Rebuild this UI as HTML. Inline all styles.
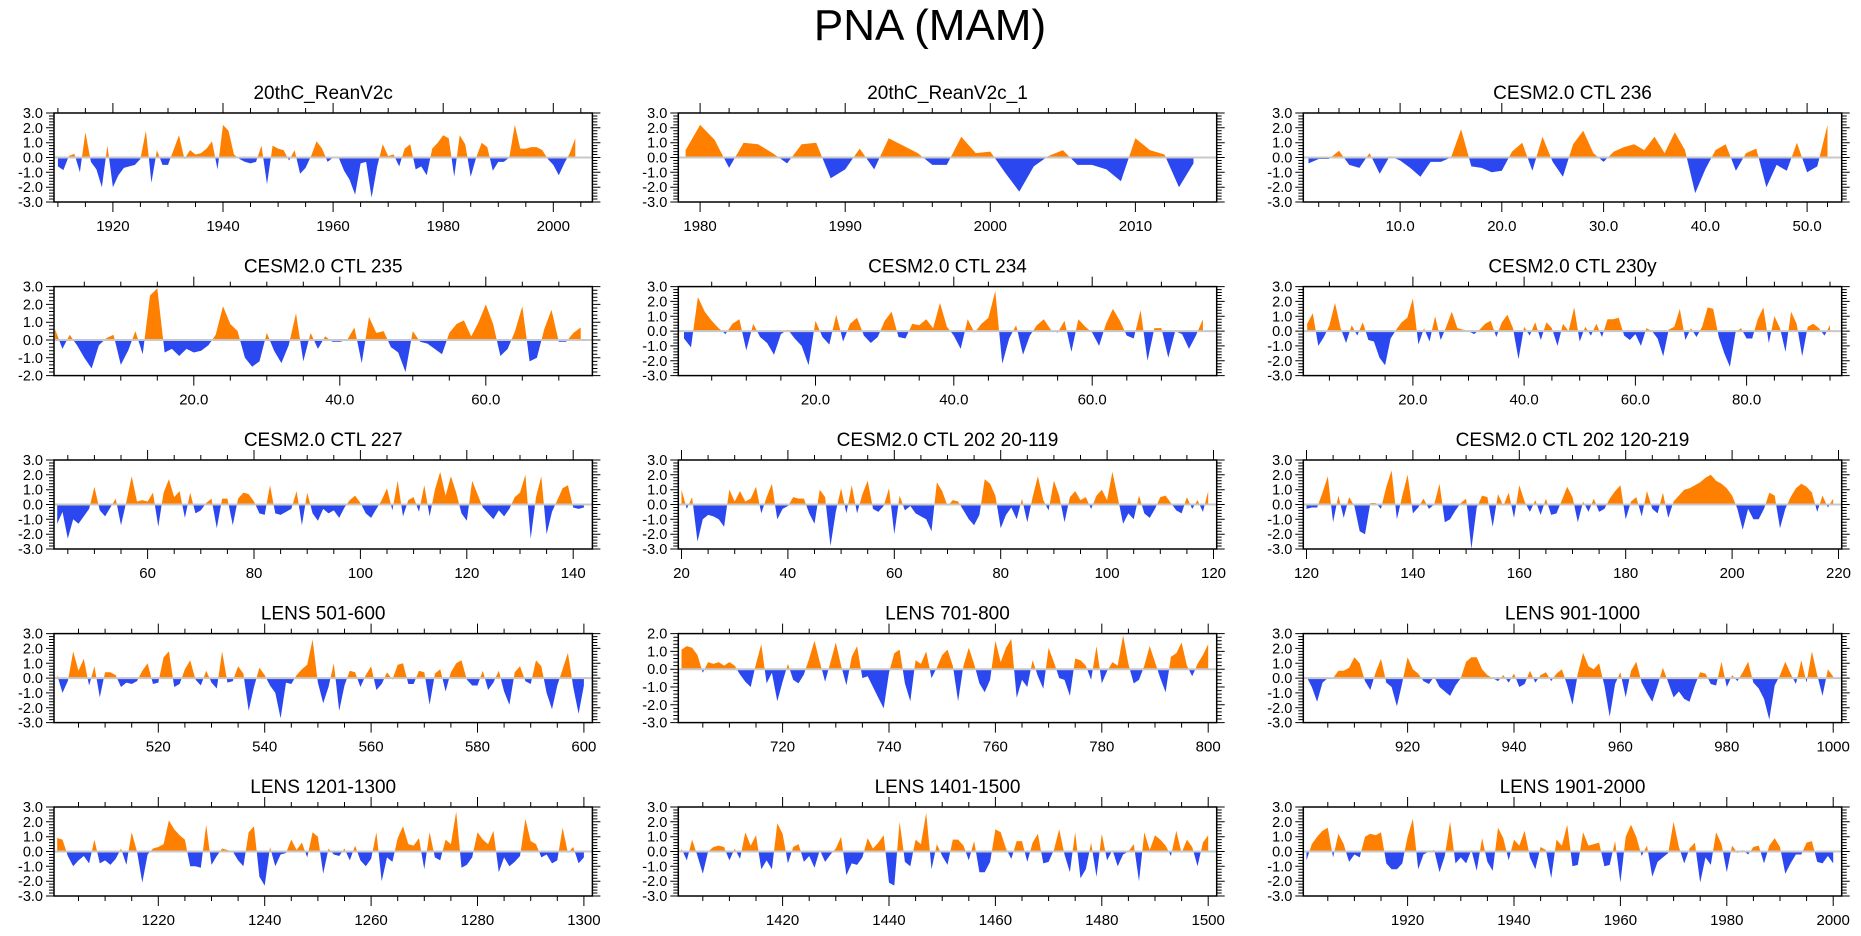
<!DOCTYPE html>
<html><head><meta charset="utf-8"><title>PNA (MAM)</title>
<style>
html,body{margin:0;padding:0;background:#fff;}
svg{display:block;font-family:"Liberation Sans",Arial,sans-serif;}
</style></head>
<body>
<svg id="chart" width="1861" height="936" viewBox="0 0 1861 936" xmlns="http://www.w3.org/2000/svg">
<rect x="0" y="0" width="1861" height="936" fill="#fff"/>
<text x="930" y="40" font-size="44" text-anchor="middle" fill="#000">PNA (MAM)</text>
</svg>
<script>
// ---- data ----
const titles = ["20thC_ReanV2c","20thC_ReanV2c_1","CESM2.0 CTL 236","CESM2.0 CTL 235","CESM2.0 CTL 234","CESM2.0 CTL 230y","CESM2.0 CTL 227","CESM2.0 CTL 202 20-119","CESM2.0 CTL 202 120-219","LENS 501-600","LENS 701-800","LENS 901-1000","LENS 1201-1300","LENS 1401-1500","LENS 1901-2000"];
const startX = [1910,1979,1,1,1,1,43,20,120,501,701,901,1201,1401,1901];
const s1 = [-0.6,-0.85,0.1,0.25,-1.0,1.7,-0.3,-0.8,-2.0,0.8,-2.0,-1.2,-0.7,-0.6,-0.5,-0.1,1.8,-1.7,0.5,-0.5,-0.5,0.5,1.5,-0.1,0.5,0.2,0.3,0.6,1.1,-0.8,2.2,1.8,0.2,-0.1,-0.3,-0.4,-0.3,0.8,-1.8,0.8,0.6,0.5,-0.2,0.5,-1.1,-0.7,0.1,1.1,0.6,-0.3,0.0,0.0,-0.9,-1.5,-2.5,-0.4,-0.3,-2.7,-0.6,0.9,0.1,0.2,-0.6,0.6,0.9,-0.8,-0.6,-1.2,0.6,1.0,1.5,1.3,-1.3,1.5,0.9,-1.3,0.0,1.0,0.7,-0.9,-0.3,-0.3,0.0,2.2,0.6,0.6,0.7,0.7,0.5,-0.1,-0.5,-1.2,-0.4,0.3,1.3];
const s2 = [0.5,2.2,1.2,-0.7,1.0,0.9,0.3,-0.4,0.9,1.0,-1.4,-0.8,0.6,-0.8,1.3,0.8,0.3,-0.5,-0.5,1.4,0.3,0.4,-1.0,-2.3,-0.6,0.1,0.5,-0.5,-0.5,-0.8,-1.6,1.3,0.5,0.2,-2.0,-0.4];
const s3 = [-0.4,-0.1,-0.1,0.45,-0.5,-0.7,0.3,-1.1,0.1,-0.2,-0.7,-1.3,-0.3,-0.3,0.0,1.9,-0.6,-0.7,-1.0,-0.9,0.4,1.0,-0.9,1.4,-0.3,-1.3,0.9,1.8,0.3,-0.3,0.4,0.7,0.9,0.5,1.4,0.3,1.7,0.5,-2.4,-0.8,0.5,0.9,-0.9,0.3,0.6,-2.0,-0.5,-0.9,1.0,-1.0,-0.6,2.2];
const s4 = [0.6,-0.5,0.3,-0.3,-1.0,-1.6,-0.3,0.1,0.3,-1.4,-0.6,0.5,-0.8,2.5,2.9,-0.7,-0.5,-0.9,-0.5,-0.7,-0.6,-0.3,0.3,1.9,0.9,0.5,-1.0,-1.5,-1.2,0.4,-0.6,-1.3,-0.3,1.5,-1.2,0.4,-0.5,0.2,-0.1,-0.1,0.0,0.7,-1.3,1.3,0.4,0.5,-0.4,-0.7,-1.8,0.5,-0.1,-0.2,-0.5,-0.8,0.4,0.9,1.1,0.2,1.0,2.0,0.9,-0.9,-0.5,0.5,1.9,-1.2,-1.0,0.6,1.7,-0.1,-0.1,0.4,0.7];
const s5 = [-0.5,-1.1,2.3,1.3,0.7,0.2,-0.2,0.5,0.8,-1.3,0.5,-0.4,-0.8,-1.6,-0.2,0.1,-0.5,-1.0,-2.3,0.7,-0.4,-0.9,1.1,-0.7,0.5,0.9,-0.3,-0.8,-0.4,0.7,1.3,-0.4,-0.5,0.5,0.4,0.8,0.2,1.9,0.3,-0.3,-1.2,0.8,-0.1,0.5,0.9,2.7,-2.2,-0.5,0.4,-1.6,-0.3,0.4,0.8,0.1,-0.1,0.7,-1.4,0.8,0.3,-0.1,-1.0,0.5,1.5,0.7,-0.3,-0.5,1.4,-2.0,0.2,0.2,-1.8,0.0,-0.2,-1.2,-0.3,0.8];
const s6 = [0.5,1.2,-1.0,-0.4,0.4,1.9,0.2,-0.8,0.4,-0.3,0.6,-0.6,-0.7,-1.8,-2.3,-0.5,0.1,0.6,0.9,2.2,-0.9,0.2,-0.7,1.0,-0.6,0.3,1.3,0.2,0.1,0.0,-0.2,0.1,0.5,0.7,-0.4,0.6,1.1,0.2,-1.9,0.3,-0.3,0.6,-0.6,0.6,0.2,-1.0,0.5,0.0,1.6,-0.7,0.3,-0.3,0.5,-0.4,0.8,0.8,0.9,-0.3,-0.6,-0.2,-1.0,0.2,0.0,-0.5,-1.7,0.1,0.3,1.5,-0.6,0.2,-0.4,0.3,1.6,1.5,-0.4,-1.5,-2.4,-0.1,0.2,-0.5,-0.5,0.8,1.6,-0.8,1.0,0.2,-1.4,1.3,0.5,-1.7,0.3,0.5,0.2,-0.3,0.4];
const s7 = [-1.3,-0.5,-2.3,-1.0,-1.3,-0.8,-0.3,1.2,-0.4,-0.8,-0.2,0.4,-1.4,0.2,1.9,0.2,0.3,0.2,0.8,-1.5,0.8,1.7,0.5,0.9,-0.9,0.8,-0.6,-0.4,0.1,0.4,-1.6,0.4,0.4,-1.4,0.4,0.8,0.7,0.2,-0.6,-0.7,1.3,-0.6,-0.7,-0.5,-0.3,0.9,-1.4,0.8,-0.6,-1.1,-0.3,-0.6,-0.4,-0.9,-0.2,0.3,0.6,0.1,-0.6,-0.9,-0.3,0.3,1.1,-0.4,1.6,-0.8,0.3,0.5,-0.5,1.3,-0.8,1.0,2.2,0.6,1.9,0.8,-0.6,-1.1,1.6,0.7,-0.2,-0.6,-1.0,-0.4,-0.8,-0.3,0.5,0.8,2.0,-2.3,0.5,1.9,-2.0,-0.5,0.3,1.1,1.3,-0.2,-0.3,-0.2];
const s8 = [1.0,-0.3,0.5,-2.5,-1.0,-0.7,-0.8,-1.0,-1.5,1.0,0.2,0.9,0.2,0.4,1.2,-0.6,0.5,1.4,-1.0,-0.3,-0.1,0.5,0.4,0.4,-0.6,-1.3,1.0,0.5,-2.8,-0.5,1.1,-0.6,1.3,-0.6,0.7,1.6,-0.3,-0.5,-0.1,1.1,-2.0,0.6,-0.4,-0.1,-0.6,-0.8,-1.0,-1.8,1.5,0.9,-0.1,0.3,0.2,-0.4,-1.0,-1.4,-0.7,1.7,1.4,0.6,-1.6,-0.7,-0.2,-1.0,0.4,-1.2,0.5,1.9,0.3,-0.4,1.6,0.6,-1.2,0.5,0.9,0.3,0.5,-0.3,0.6,1.0,0.3,2.2,0.5,-1.3,-0.6,-1.0,0.6,-0.6,-0.9,-0.3,0.5,0.6,0.1,-0.4,-0.6,0.5,-0.3,0.3,-0.5,0.9];
const s9 = [-0.3,-0.2,-0.2,0.8,1.9,-1.2,0.6,-0.9,0.5,-0.1,-1.8,-2.0,0.1,0.1,-0.3,1.2,2.3,-1.0,0.6,2.0,-0.6,-0.2,0.4,-0.3,0.0,1.4,-1.2,-1.0,-0.4,0.1,0.4,-3.0,-0.2,0.6,0.5,-1.5,0.7,-0.1,0.8,-0.9,1.3,0.2,-0.5,0.3,-0.7,0.4,-0.7,-0.6,0.3,1.2,0.5,-1.2,0.2,-0.5,0.4,-0.5,-0.3,0.4,0.9,1.3,-1.0,0.2,0.5,-0.8,0.9,-0.3,-0.6,0.8,-0.9,0.2,0.6,1.0,1.1,1.3,1.5,1.8,2.0,1.6,1.4,1.1,0.6,-0.3,-1.7,-0.3,-1.0,-1.0,-0.3,0.8,0.6,-1.6,-0.3,0.5,1.1,1.4,1.2,0.8,-0.5,0.6,-0.2,0.4];
const s10 = [0.2,-1.0,-0.2,1.8,0.5,1.3,-0.5,0.8,-1.3,0.4,0.4,0.2,-0.6,-0.3,-0.4,-0.2,0.5,1.0,-0.4,-0.3,1.4,1.8,-0.6,-0.4,0.6,1.2,-0.1,-0.5,0.5,-0.3,-0.7,1.8,-0.3,-0.2,0.8,0.3,-2.2,-0.6,0.7,0.2,-0.5,-1.0,-2.7,-0.3,-0.4,0.2,0.6,0.9,2.6,-0.3,-1.7,-0.6,1.0,-2.2,-0.5,0.5,0.4,-0.6,0.2,0.8,-0.8,-0.4,0.4,-0.1,0.9,1.0,-0.4,-0.4,0.5,0.4,-1.8,0.3,0.6,-0.9,0.4,1.0,1.2,-0.1,-0.5,-0.5,0.5,-0.8,-0.3,0.5,-0.9,-1.8,0.4,0.8,-0.2,-0.4,1.2,0.8,-1.0,-2.1,-0.5,0.6,1.7,-0.6,-2.4,-0.5];
const s11 = [1.1,1.3,1.2,0.8,-0.2,0.4,0.3,0.4,0.2,0.4,0.2,-0.3,-0.7,-1.0,0.3,1.4,-0.8,-0.2,-1.8,-0.7,0.3,-0.6,-0.8,-0.3,0.6,1.6,0.4,-0.7,0.4,1.5,0.2,-0.9,0.7,1.3,-0.5,-0.4,-1.0,-1.6,-2.2,-0.2,0.9,1.1,-0.8,-1.8,0.5,0.3,1.0,-0.5,0.1,0.8,1.1,0.2,-1.8,0.2,1.2,0.3,-0.8,-1.3,-0.6,1.6,0.4,1.2,1.7,-1.6,-0.6,-1.0,0.5,-0.4,-1.1,1.2,0.4,-0.5,-0.6,-1.5,0.6,0.5,0.2,-0.6,1.3,-0.8,-0.1,0.4,0.2,1.9,0.3,-0.8,-0.6,0.2,1.3,0.4,-0.5,-1.3,0.7,0.9,1.5,0.2,-0.4,0.3,0.8,1.4];
const s12 = [0.1,-0.6,-1.6,-0.3,0.0,0.0,0.5,0.5,0.7,1.4,1.0,-0.2,-0.8,0.4,1.3,-0.3,-0.6,-1.9,-0.3,1.4,0.6,0.3,-0.2,-0.4,0.1,-0.6,-0.9,-1.2,-0.5,0.0,1.1,1.4,1.4,0.6,0.2,0.0,-0.2,0.2,-0.3,0.3,-0.6,-0.4,0.5,-0.3,0.2,0.4,-0.2,0.3,0.6,-0.5,-1.8,0.3,1.7,0.8,0.6,1.0,-0.5,-2.6,-0.4,0.4,-1.3,0.5,1.1,-0.3,-1.0,-1.6,-0.5,0.7,-0.3,-1.3,-0.9,-1.4,-1.6,-0.5,0.4,0.3,-0.4,-0.5,1.1,-0.6,0.2,-0.2,0.4,1.1,-0.3,-0.7,-1.4,-2.8,-0.5,0.2,1.1,0.3,-0.4,1.2,-0.3,1.8,0.2,-1.2,0.6,0.1];
const s13 = [0.9,0.8,-0.3,-1.0,-0.6,-0.3,-0.8,0.8,-0.8,-0.6,-0.9,-0.5,0.2,-0.9,1.3,0.0,-2.1,-0.2,0.2,0.3,0.5,2.1,1.5,1.1,0.8,-1.0,-1.0,-1.1,1.8,-0.9,-0.3,0.2,0.1,0.0,-0.6,-1.0,1.3,1.7,-1.7,-2.3,0.3,-1.0,-0.2,-0.1,0.8,0.1,0.6,-0.4,1.3,1.0,-1.5,0.2,-0.2,-0.3,0.2,-0.6,0.4,-0.6,-1.0,-0.5,1.3,-2.0,-0.4,-0.7,0.9,1.7,0.5,0.4,0.9,-1.2,1.3,-0.4,-0.6,0.8,0.5,2.7,-1.1,-0.9,-0.4,1.3,0.8,0.5,1.4,-1.4,-0.4,-1.0,-0.7,-0.3,2.2,0.7,0.5,-0.4,-0.2,-0.8,-0.6,1.6,-0.1,0.3,-0.8,-0.4];
const s14 = [0.2,-0.6,0.8,-0.3,-1.5,0.0,0.3,0.4,0.3,-0.6,0.2,-0.5,1.3,0.4,1.1,-1.2,-0.6,-1.2,1.9,1.2,-0.8,0.3,0.5,-0.7,-0.3,-1.1,0.1,-0.7,-0.2,0.2,1.0,-1.6,-0.8,-0.9,-0.4,0.9,0.2,0.6,1.1,-2.1,-2.3,2.0,-0.7,-1.0,0.8,0.5,2.6,-1.2,0.5,-0.3,-0.9,0.8,0.8,0.4,-0.6,0.7,-1.4,-1.4,-0.7,1.5,1.3,0.2,-0.5,0.7,0.7,-0.7,0.6,1.2,-0.8,-0.7,0.1,1.5,-0.2,-1.4,1.3,-1.8,-1.2,0.6,-1.7,1.2,-0.6,0.1,-1.0,-0.2,0.0,0.5,-2.0,1.3,0.1,1.1,0.8,0.4,-0.3,1.4,-0.1,0.8,0.3,-1.0,0.6,1.1];
const s15 = [-0.6,0.5,1.0,1.4,1.6,-0.4,1.2,0.5,-0.7,-0.2,-0.4,1.0,1.2,1.1,1.3,-0.8,-1.2,-1.2,-0.8,1.0,2.2,-1.2,-0.2,0.0,0.1,-1.4,-0.3,2.0,-0.8,-0.4,-0.8,0.1,-1.3,0.9,-0.7,-1.3,1.6,0.9,-0.6,0.8,0.4,1.4,-0.4,-1.2,0.3,0.1,-1.8,0.8,0.4,1.8,-1.0,-0.9,1.3,0.4,0.5,0.6,-1.0,-0.9,0.7,-2.1,1.0,1.8,1.0,-0.3,0.4,-1.7,-0.7,-0.4,-0.1,2.0,0.3,-0.8,0.2,0.6,-2.1,-0.4,-0.9,1.3,0.5,-1.4,0.4,-0.1,0.1,-0.2,0.3,0.4,-0.8,0.4,0.9,0.3,-1.5,-0.8,-0.2,-0.2,0.6,0.7,-0.7,-0.8,-0.3,-0.8];
const seriesList = [s1,s2,s3,s4,s5,s6,s7,s8,s9,s10,s11,s12,s13,s14,s15];
const yTopVals = [3,3,3,3,3,3,3,3,3,3,2,3,3,3,3];
const yBotVals = [-3,-3,-3,-2,-3,-3,-3,-3,-3,-3,-3,-3,-3,-3,-3];

// ---- axis settings (layout) ----
const xMinArr = [1909.3,1978.5,0.49,0.85,0.17,0.3,42.4,19.4,119.4,500.4,700.4,900.4,1200.4,1400.4,1900.4];
const xMaxArr = [2007.1,2015.6,53.4,74.6,78,97.1,143.6,120.6,220.6,601.6,801.6,1001.6,1301.6,1501.6,2001.6];
const majorStep = [20,10,10,20,20,20,20,20,20,20,20,20,20,20,20];
const minorStep = [5,2,2,5,5,5,5,5,5,5,5,5,5,5,5];
const decimals = [0,0,1,1,1,1,0,0,0,0,0,0,0,0,0];

const NS = "http://www.w3.org/2000/svg";
const svg = document.getElementById('chart');
const colLeft = [54, 678.3, 1303.3];
const rowTop = [113, 286.6, 460, 633.6, 807];
const PW = 538.4, PH = 89;

function mk(tag, attrs, parent){
  const e = document.createElementNS(NS, tag);
  for (const k in attrs) e.setAttribute(k, attrs[k]);
  parent.appendChild(e);
  return e;
}

for (let p = 0; p < 15; p++) {
  const L = colLeft[p % 3], T = rowTop[Math.floor(p / 3)];
  const xmin = xMinArr[p], xmax = xMaxArr[p], ymin = yBotVals[p], ymax = yTopVals[p];
  const sx = v => L + (v - xmin) / (xmax - xmin) * PW;
  const sy = v => T + (ymax - v) / (ymax - ymin) * PH;
  const g = mk('g', {}, svg);
  
  

  const ttl = mk('text', {x: L + PW / 2, y: T - 14, 'font-size': 19, 'text-anchor': 'middle', fill: '#000'}, g);
  ttl.textContent = titles[p];
  
  

  const vals = seriesList[p], x0 = startX[p];
  const y0 = sy(0);
  const pts = vals.map((v, i) => [x0 + i, v]);
  let pp = [], np = [];
  for (let i = 0; i < pts.length; i++) {
    const [x, v] = pts[i];
    if (i > 0) {
      const [xa, va] = pts[i - 1];
      if ((va > 0 && v < 0) || (va < 0 && v > 0)) {
        const xc = xa + (x - xa) * (va / (va - v));
        pp.push([sx(xc), y0]); np.push([sx(xc), y0]);
      }
    }
    pp.push([sx(x), sy(Math.max(v, 0))]);
    np.push([sx(x), sy(Math.min(v, 0))]);
  }
  const first = sx(pts[0][0]), last = sx(pts[pts.length - 1][0]);
  const toD = arr => 'M' + first.toFixed(1) + ',' + y0.toFixed(1) + ' ' + arr.map(q => 'L' + q[0].toFixed(1) + ',' + q[1].toFixed(1)).join(' ') + ' L' + last.toFixed(1) + ',' + y0.toFixed(1) + ' Z';
  const posPath = mk('path', {d: toD(pp), fill: '#ff8000', stroke: 'none'}, g);
  
  
  const negPath = mk('path', {d: toD(np), fill: '#2b48f0', stroke: 'none'}, g);
  
  

  const zl = mk('line', {x1: L, x2: L + PW, y1: y0, y2: y0, stroke: '#c8c8c8', 'stroke-width': 2}, g);
  
  

  const fr = mk('rect', {x: L, y: T, width: PW, height: PH, fill: 'none', stroke: '#000', 'stroke-width': 1.5}, g);
  
  

  let td = '';
  const ms = minorStep[p], Ms = majorStep[p];
  for (let v = Math.ceil(xmin / ms) * ms; v <= xmax + 1e-9; v += ms) {
    const X = sx(v), big = Math.abs(v / Ms - Math.round(v / Ms)) < 1e-6;
    const len = big ? 10 : 5;
    td += 'M' + X.toFixed(1) + ',' + T + 'v' + (-len) + 'M' + X.toFixed(1) + ',' + (T + PH) + 'v' + len;
    if (big) {
      const lb = mk('text', {x: X, y: T + PH + 29, 'font-size': 15, 'text-anchor': 'middle', fill: '#000'}, g);
      lb.textContent = v.toFixed(decimals[p]);
      
      
    }
  }
  for (let k = Math.round(ymin * 5); k <= Math.round(ymax * 5); k++) {
    const v = k / 5, Y = sy(v), big = k % 5 === 0;
    const len = big ? 8 : 5;
    td += 'M' + L + ',' + Y.toFixed(1) + 'h' + (-len) + 'M' + (L + PW) + ',' + Y.toFixed(1) + 'h' + len;
    if (big) {
      const lb = mk('text', {x: L - 11, y: Y + 5, 'font-size': 14.5, 'text-anchor': 'end', fill: '#000'}, g);
      lb.textContent = v.toFixed(1);
      
      
    }
  }
  const tk = mk('path', {d: td, stroke: '#000', 'stroke-width': 1, fill: 'none'}, g);
  
  
}
</script>
</body></html>
